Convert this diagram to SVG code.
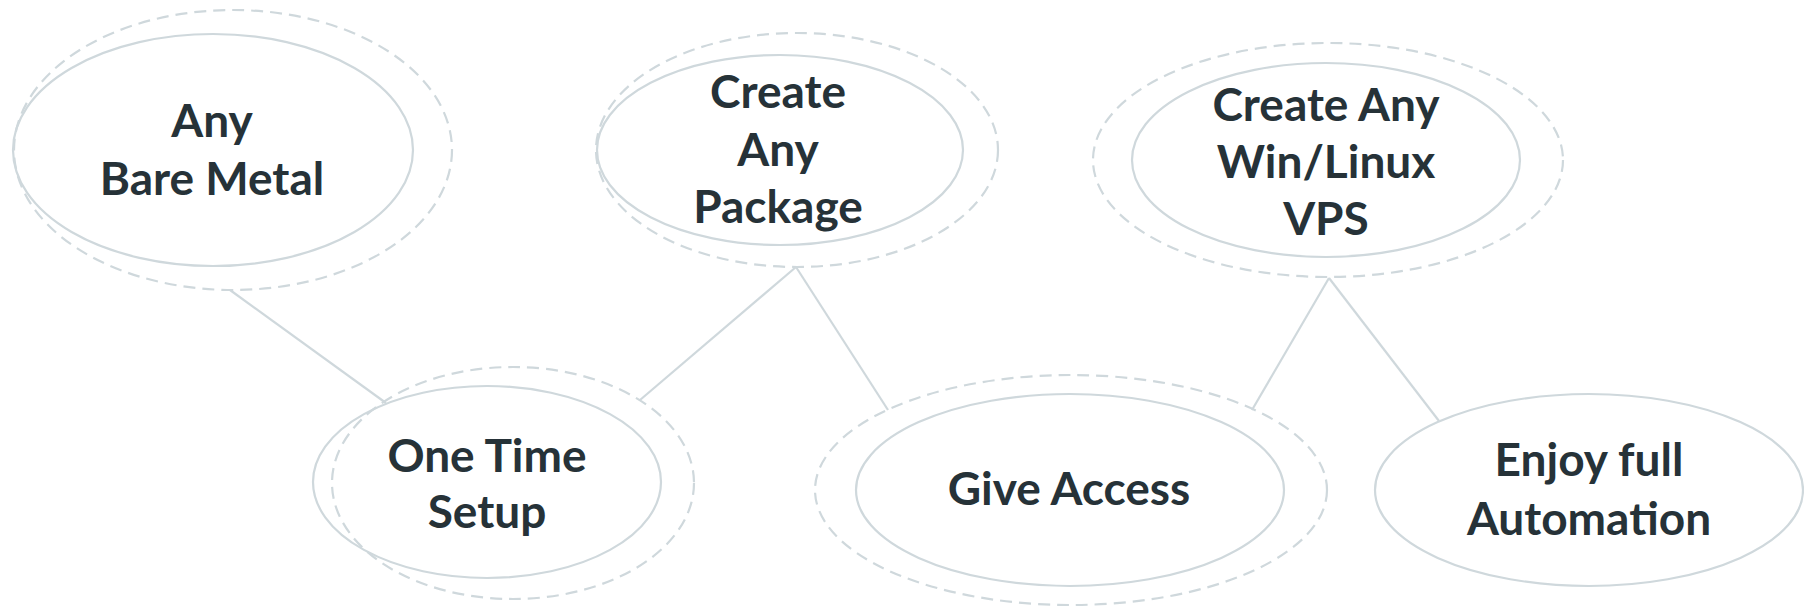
<svg xmlns="http://www.w3.org/2000/svg" width="1804" height="606" viewBox="0 0 1804 606">
<style>
.solid{fill:none;stroke:#cfd8dc;stroke-width:2.2}
.dash{fill:none;stroke:#cfd8dc;stroke-width:2.2;stroke-dasharray:12 7}
.edge{stroke:#cfd8dc;stroke-width:2.2;fill:none}
.t{font-family:Lato,"Liberation Sans",sans-serif;font-weight:700;font-size:46px;fill:#263238;text-anchor:middle}
</style>
<rect width="1804" height="606" fill="#ffffff"/>
<g id="connectors">
<line class="edge" x1="230" y1="290" x2="386" y2="403"/>
<line class="edge" x1="796" y1="267" x2="640" y2="400"/>
<line class="edge" x1="796" y1="267" x2="888" y2="410"/>
<line class="edge" x1="1329" y1="278" x2="1252" y2="410"/>
<line class="edge" x1="1329" y1="278" x2="1439" y2="421"/>
</g>
<g id="bare-metal">
<ellipse class="dash" cx="233" cy="150" rx="219" ry="140"/>
<ellipse class="solid" cx="213" cy="150" rx="200" ry="116"/>
<text class="t" x="212" y="137">Any</text>
<text class="t" x="212" y="195">Bare Metal</text>
</g>
<g id="create-package">
<ellipse class="dash" cx="797" cy="150" rx="201" ry="117"/>
<ellipse class="solid" cx="780" cy="150" rx="183" ry="95"/>
<text class="t" x="778" y="108">Create</text>
<text class="t" x="778" y="166">Any</text>
<text class="t" x="778" y="223">Package</text>
</g>
<g id="create-vps">
<ellipse class="dash" cx="1328" cy="160" rx="235" ry="117"/>
<ellipse class="solid" cx="1326" cy="160" rx="194" ry="97"/>
<text class="t" x="1326" y="121">Create Any</text>
<text class="t" x="1326" y="178">Win/Linux</text>
<text class="t" x="1326" y="235">VPS</text>
</g>
<g id="one-time-setup">
<ellipse class="dash" cx="513" cy="483" rx="181" ry="116"/>
<ellipse class="solid" cx="487" cy="482" rx="174" ry="96"/>
<text class="t" x="487" y="472">One Time</text>
<text class="t" x="487" y="528">Setup</text>
</g>
<g id="give-access">
<ellipse class="dash" cx="1071" cy="490" rx="256" ry="115"/>
<ellipse class="solid" cx="1070" cy="490" rx="214" ry="96"/>
<text class="t" x="1069" y="505">Give Access</text>
</g>
<g id="enjoy-automation">
<ellipse class="solid" cx="1589" cy="490" rx="214" ry="96"/>
<text class="t" x="1589" y="476">Enjoy full</text>
<text class="t" x="1589" y="535">Automation</text>
</g>
</svg>
